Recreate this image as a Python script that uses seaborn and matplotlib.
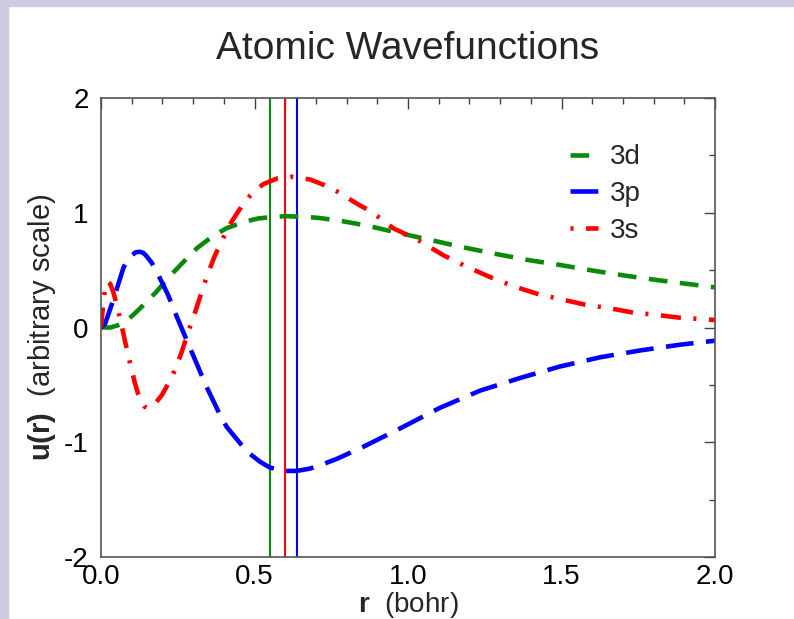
import matplotlib
matplotlib.use("Agg")
import matplotlib.pyplot as plt
import seaborn as sns
from matplotlib.ticker import MultipleLocator, FormatStrFormatter
from matplotlib.patches import Rectangle

# ---- data ----
r_3d = [0.0, 0.03, 0.056, 0.08, 0.105, 0.14, 0.18, 0.225, 0.268, 0.312, 0.366,
        0.409, 0.464, 0.512, 0.567, 0.605, 0.67, 0.708, 0.768, 0.811, 0.871,
        0.952, 1.061, 1.169, 1.278, 1.387, 1.495, 1.604, 1.712, 1.821, 1.91, 2.0]
u_3d = [0.0, 0.0, 0.02, 0.05, 0.11, 0.20, 0.31, 0.45, 0.57, 0.69, 0.80,
        0.865, 0.92, 0.95, 0.966, 0.97, 0.963, 0.955, 0.935, 0.915, 0.885,
        0.835, 0.77, 0.705, 0.645, 0.59, 0.545, 0.495, 0.45, 0.41, 0.38, 0.35]

r_3p = [0.0, 0.013, 0.04, 0.073, 0.087, 0.1, 0.113, 0.127, 0.138, 0.149, 0.165,
        0.181, 0.219, 0.246, 0.268, 0.284, 0.322, 0.339, 0.382, 0.409, 0.475,
        0.518, 0.55, 0.594, 0.637, 0.68, 0.724, 0.768, 0.854, 0.974, 1.104,
        1.235, 1.365, 1.495, 1.625, 1.756, 1.886, 2.0]
u_3p = [0.0, 0.03, 0.24, 0.52, 0.59, 0.63, 0.655, 0.66, 0.65, 0.62, 0.565,
        0.49, 0.28, 0.10, -0.04, -0.14, -0.38, -0.49, -0.73, -0.865, -1.08,
        -1.17, -1.22, -1.25, -1.25, -1.23, -1.19, -1.145, -1.04, -0.88, -0.70,
        -0.55, -0.44, -0.34, -0.26, -0.20, -0.15, -0.115]

r_3s = [0.0, 0.007, 0.013, 0.02, 0.03, 0.04, 0.05, 0.06, 0.07, 0.08, 0.09, 0.10,
        0.11, 0.12, 0.128, 0.135, 0.142, 0.15, 0.158, 0.165, 0.18, 0.198, 0.215,
        0.241, 0.262, 0.284, 0.306, 0.322, 0.344, 0.37, 0.398, 0.42, 0.442,
        0.469, 0.50, 0.529, 0.575, 0.621, 0.681, 0.728, 0.773, 0.833, 0.88,
        0.952, 1.034, 1.115, 1.191, 1.267, 1.343, 1.425, 1.5, 1.582, 1.658,
        1.734, 1.81, 1.886, 1.973, 2.0]
u_3s = [0.0, 0.20, 0.33, 0.40, 0.38, 0.31, 0.21, 0.10, -0.02, -0.14, -0.26, -0.37,
        -0.48, -0.57, -0.625, -0.66, -0.69, -0.70, -0.70, -0.69, -0.65, -0.59,
        -0.51, -0.37, -0.22, -0.04, 0.13, 0.26, 0.44, 0.62, 0.78, 0.90, 0.99,
        1.10, 1.19, 1.25, 1.30, 1.314, 1.29, 1.24, 1.18, 1.08, 1.01,
        0.865, 0.76, 0.63, 0.53, 0.44, 0.36, 0.29, 0.245, 0.196, 0.167,
        0.13, 0.11, 0.085, 0.07, 0.065]

vline_r = [0.550, 0.599, 0.638]
labels = ["3d", "3p", "3s"]

# ---- style ----
GREEN, BLUE, RED = "#0a8a0a", "#0000ff", "#ff0000"
sns.set_style("white")
plt.rcParams["font.family"] = ["Liberation Sans", "DejaVu Sans"]
plt.rcParams["mathtext.fontset"] = "custom"
plt.rcParams["mathtext.rm"] = "Liberation Sans"
plt.rcParams["mathtext.bf"] = "Liberation Sans:bold"
plt.rcParams["lines.scale_dashes"] = False

fig = plt.figure(figsize=(7.94, 6.19), dpi=100)
frame_col = "#cdcddf"
fig.patches.append(Rectangle((0, 0), 8 / 794, 1, transform=fig.transFigure,
                             color=frame_col, zorder=-5))
fig.patches.append(Rectangle((0, 1 - 6 / 619), 1, 6 / 619, transform=fig.transFigure,
                             color=frame_col, zorder=-5))

ax = fig.add_axes([101 / 794, 1 - 557 / 619, 614 / 794, 459 / 619])

lw = 3.3
dash_3d = (0, (13.5, 9.0))
dash_3p = (0, (20.0, 9.0))
dash_3s = (0, (14.5, 9.0, 2.2, 9.0))
sns.lineplot(x=r_3d, y=u_3d, ax=ax, color=GREEN, lw=lw, label=labels[0],
             estimator=None, sort=False)
ax.lines[-1].set_linestyle(dash_3d)
sns.lineplot(x=r_3p, y=u_3p, ax=ax, color=BLUE, lw=lw, label=labels[1],
             estimator=None, sort=False)
ax.lines[-1].set_linestyle(dash_3p)
sns.lineplot(x=r_3s, y=u_3s, ax=ax, color=RED, lw=lw, label=labels[2],
             estimator=None, sort=False)
ax.lines[-1].set_linestyle(dash_3s)

for xv, c in zip(vline_r, [GREEN, RED, BLUE]):
    ax.axvline(xv, color=c, lw=1.5, zorder=1)

ax.set_xlim(0, 2.0)
ax.set_ylim(-2, 2)
ax.xaxis.set_major_locator(MultipleLocator(0.5))
ax.xaxis.set_minor_locator(MultipleLocator(0.1))
ax.yaxis.set_major_locator(MultipleLocator(1))
ax.yaxis.set_minor_locator(MultipleLocator(0.5))
ax.xaxis.set_major_formatter(FormatStrFormatter("%.1f"))
ax.yaxis.set_major_formatter(FormatStrFormatter("%d"))

for s in ax.spines.values():
    s.set_visible(True)
    s.set_color("#555555")
    s.set_linewidth(1.2)
ax.tick_params(which="both", direction="in", top=True, right=True,
               colors="#444444", labelcolor="black", width=1.0)
ax.tick_params(which="major", length=8)
ax.tick_params(which="minor", length=4.5)
ax.tick_params(axis="x", which="major", labelsize=20, pad=5)
ax.tick_params(axis="y", which="major", labelsize=20, pad=9)

ax.set_xlabel(r"$\mathbf{r}$  (bohr)", fontsize=20, labelpad=0)
ax.set_ylabel(r"$\mathbf{u(r)}$  (arbitrary scale)", fontsize=21, labelpad=4)
ax.set_title("Atomic Wavefunctions", fontsize=28, pad=28)

leg = ax.legend(loc="upper left", bbox_to_anchor=(0.764, 0.899), frameon=False,
                fontsize=20, handlelength=1.0, handletextpad=0.45, labelspacing=0.39,
                borderpad=0, borderaxespad=0)
# legend sample of 3s begins with its dot, as in the reference
leg.get_lines()[2].set_linestyle((23.5, (14.5, 9.0, 2.2, 9.0)))

fig.savefig("out.png", dpi=100)
